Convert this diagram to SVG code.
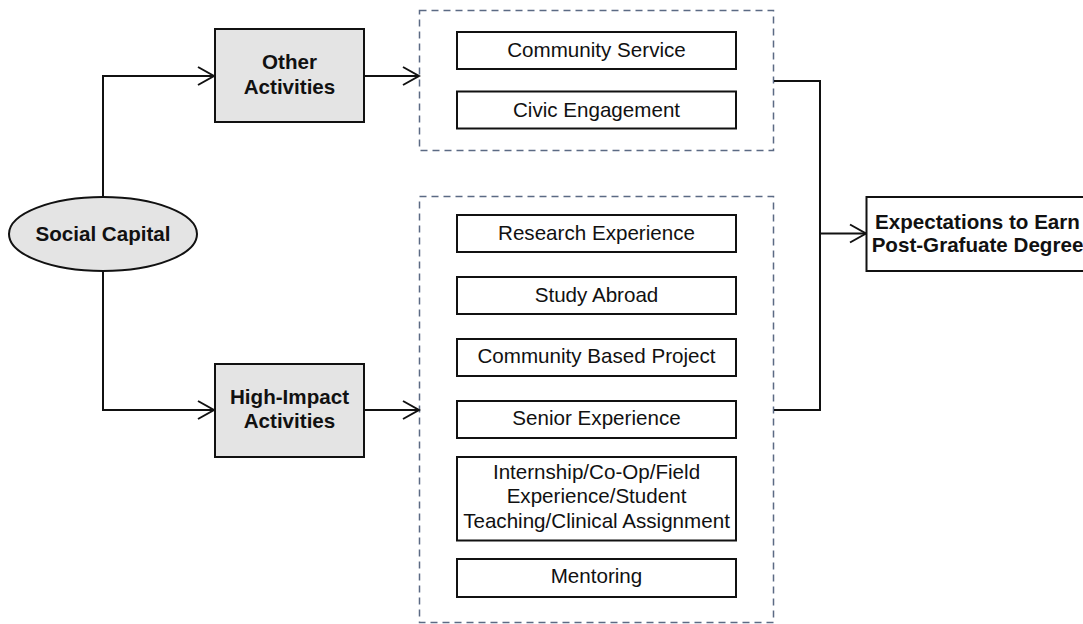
<svg xmlns="http://www.w3.org/2000/svg" width="1083" height="624" viewBox="0 0 1083 624">
  <style>
    .lbl { font-family: "Liberation Sans", Arial, sans-serif; font-size: 20.6px; fill: #111; text-anchor: middle; }
    .bold { font-weight: bold; }
    .cat { fill: #e4e4e4; stroke: #111; stroke-width: 2; }
    .item { fill: #fff; stroke: #111; stroke-width: 2; }
    .group { fill: none; stroke: #5b6a84; stroke-width: 1.5; stroke-dasharray: 7 5; }
    .wire { fill: none; stroke: #111; stroke-width: 2; }
  </style>
  <defs>
    <marker id="open" viewBox="-18 -11 20 22" refX="0" refY="0" markerWidth="20" markerHeight="22" markerUnits="userSpaceOnUse" orient="auto">
      <path d="M-16,-9 L0,0 L-16,9" fill="none" stroke="#111" stroke-width="2"/>
    </marker>
  </defs>
  <rect width="1083" height="624" fill="#fff"/>

  <!-- dashed groupings -->
  <g id="group-other">
    <rect class="group" x="419.5" y="10.5" width="354" height="140"/>
  </g>
  <g id="group-high-impact">
    <rect class="group" x="419.5" y="196.5" width="354" height="426"/>
  </g>

  <!-- connectors -->
  <g id="connectors">
    <path class="wire" d="M103,197 V76 H214" marker-end="url(#open)"/>
    <path class="wire" d="M103,271 V410 H214" marker-end="url(#open)"/>
    <path class="wire" d="M364,76 H419" marker-end="url(#open)"/>
    <path class="wire" d="M364,410 H419" marker-end="url(#open)"/>
    <path class="wire" d="M774,81 H820 V410 H774"/>
    <path class="wire" d="M820,233.5 H866" marker-end="url(#open)"/>
  </g>

  <g id="social-capital">
    <ellipse class="cat" cx="103" cy="234" rx="94" ry="37"/>
    <text class="lbl bold" x="103" y="241">Social Capital</text>
  </g>

  <g id="other-activities">
    <rect class="cat" x="215" y="29" width="149" height="93"/>
    <text class="lbl bold" x="289.5" y="69">Other</text>
    <text class="lbl bold" x="289.5" y="94">Activities</text>
  </g>

  <g id="high-impact-activities">
    <rect class="cat" x="215" y="364" width="149" height="93"/>
    <text class="lbl bold" x="289.5" y="404">High-Impact</text>
    <text class="lbl bold" x="289.5" y="428">Activities</text>
  </g>

  <g id="community-service">
    <rect class="item" x="457" y="32" width="279" height="37"/>
    <text class="lbl" x="596.5" y="57">Community Service</text>
  </g>
  <g id="civic-engagement">
    <rect class="item" x="457" y="91.5" width="279" height="37"/>
    <text class="lbl" x="596.5" y="116.5">Civic Engagement</text>
  </g>

  <g id="research-experience">
    <rect class="item" x="457" y="215" width="279" height="37"/>
    <text class="lbl" x="596.5" y="240">Research Experience</text>
  </g>
  <g id="study-abroad">
    <rect class="item" x="457" y="277" width="279" height="37"/>
    <text class="lbl" x="596.5" y="302">Study Abroad</text>
  </g>
  <g id="community-based-project">
    <rect class="item" x="457" y="339" width="279" height="37"/>
    <text class="lbl" x="596.5" y="363">Community Based Project</text>
  </g>
  <g id="senior-experience">
    <rect class="item" x="457" y="401" width="279" height="37"/>
    <text class="lbl" x="596.5" y="425">Senior Experience</text>
  </g>
  <g id="internship">
    <rect class="item" x="457" y="457" width="279" height="83.5"/>
    <text class="lbl" x="596.5" y="478.5">Internship/Co-Op/Field</text>
    <text class="lbl" x="596.5" y="503">Experience/Student</text>
    <text class="lbl" x="596.5" y="527.5">Teaching/Clinical Assignment</text>
  </g>
  <g id="mentoring">
    <rect class="item" x="457" y="559" width="279" height="38"/>
    <text class="lbl" x="596.5" y="583">Mentoring</text>
  </g>

  <g id="expectations">
    <rect class="item" x="866.5" y="197" width="224" height="74"/>
    <text class="lbl bold" x="977.5" y="228.5">Expectations to Earn</text>
    <text class="lbl bold" x="977.5" y="251.5">Post-Grafuate Degree</text>
  </g>
</svg>
